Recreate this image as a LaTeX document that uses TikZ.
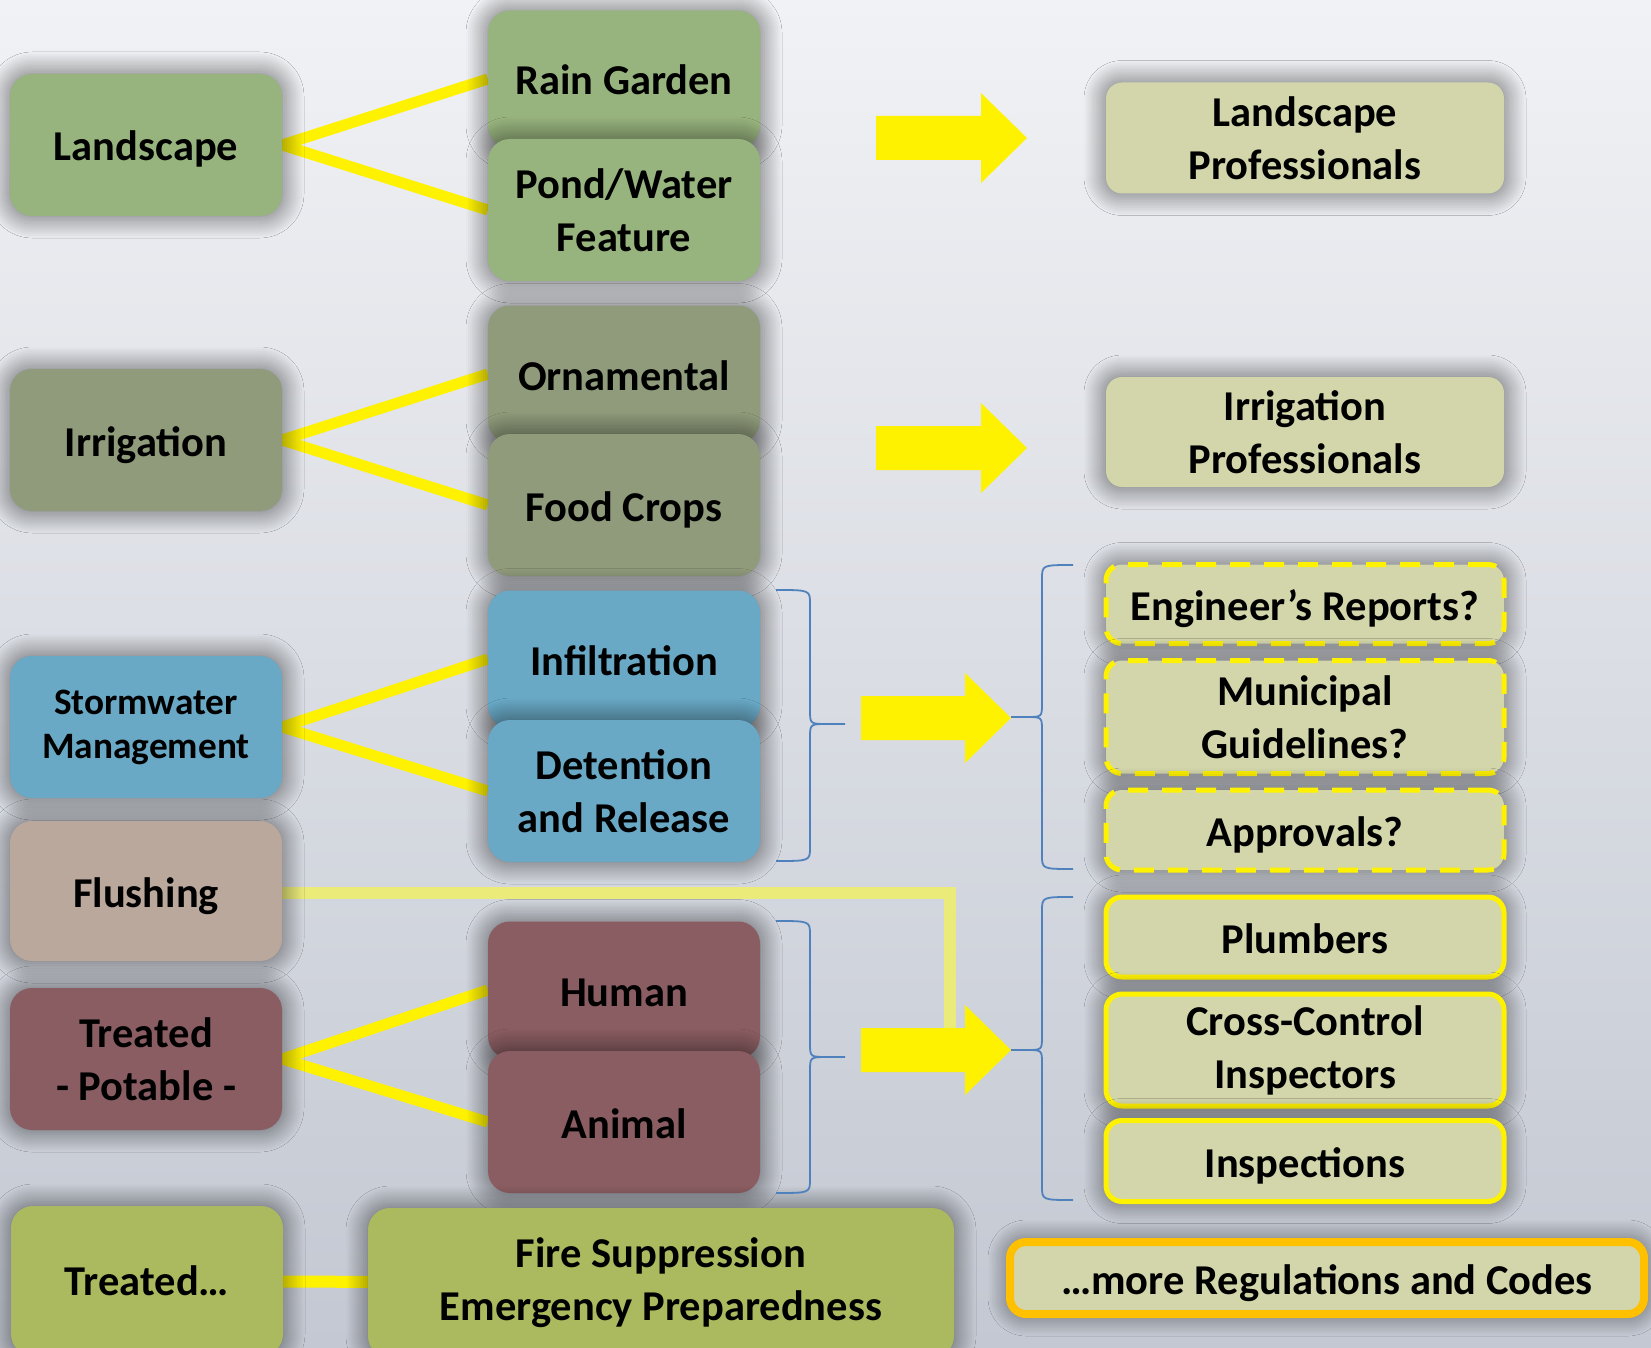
\documentclass[tikz,border=0pt]{standalone}
\usepackage{fontspec}
\setmainfont{Carlito}
\usetikzlibrary{backgrounds,shadows.blur}

\definecolor{skytop}{HTML}{F1F2F5}
\definecolor{skymid}{HTML}{D7DBE5}
\definecolor{skybot}{HTML}{C3C8D2}
\definecolor{leafgreen}{HTML}{98B47E}
\definecolor{sage}{HTML}{8F9B7B}
\definecolor{lakeblue}{HTML}{69A9C6}
\definecolor{clay}{HTML}{BBA89D}
\definecolor{wine}{HTML}{8A5D62}
\definecolor{olivegreen}{HTML}{ABBA5E}
\definecolor{khakipale}{HTML}{D3D6AB}
\definecolor{amber}{HTML}{FFC000}
\definecolor{braceblue}{HTML}{4F81BD}
\definecolor{paleyellow}{HTML}{EBEB7A}

\newcommand{\bigfont}{\fontsize{42.5}{53}\selectfont\bfseries}
\newcommand{\midfont}{\fontsize{37.3}{44}\selectfont\bfseries}

\begin{document}
\begin{tikzpicture}
    [
        x=1pt, y=-1pt,
        tile/.style={rounded corners=22pt, minimum width=272pt, minimum height=142pt,
            inner sep=0pt, align=center, font=\bigfont,
            blur shadow={shadow xshift=0pt, shadow yshift=0pt, shadow blur radius=22pt,
                shadow blur steps=12, shadow opacity=60}},
        oneline/.style={text height=36pt, text depth=4pt},
        pro/.style={tile, rounded corners=16pt, minimum width=398pt, fill=khakipale},
        dashpro/.style={pro, draw=yellow, line width=5pt, dash pattern=on 20pt off 14pt},
        linepro/.style={pro, draw=yellow, line width=5pt},
        link/.style={line width=11pt, yellow},
        curly/.style={draw=braceblue, line width=1.8pt}
    ]
    \useasboundingbox (0,0) rectangle (1651,1348);

    % left column
    \node[tile, oneline, fill=leafgreen] (land) at (146,145) {Landscape};
    \node[tile, oneline, fill=sage] (irri) at (146,440) {Irrigation};
    \node[tile, fill=lakeblue, font=\midfont] (storm) at (146,727) {Stormwater\\Management};
    \node[tile, oneline, fill=clay, minimum height=140pt] (flush) at (146,891) {Flushing};
    \node[tile, fill=wine] (potable) at (146,1059) {Treated\\- Potable -};
    \node[tile, fill=olivegreen, minimum height=150pt] (treated) at (147,1281) {Treated…};

    % middle column
    \node[tile, oneline, fill=leafgreen, minimum height=137pt] (rain) at (624,79) {Rain Garden};
    \node[tile, fill=leafgreen] (pond) at (624,210) {Pond/Water\\Feature};
    \node[tile, oneline, fill=sage, minimum height=137pt] (orna) at (624,374) {Ornamental};
    \node[tile, oneline, fill=sage] (food) at (624,505) {Food Crops};
    \node[tile, oneline, fill=lakeblue, minimum height=137pt] (infil) at (624,659) {Infiltration};
    \node[tile, fill=lakeblue] (deten) at (624,791) {Detention\\and Release};
    \node[tile, oneline, fill=wine, minimum height=137pt] (human) at (624,990) {Human};
    \node[tile, oneline, fill=wine] (animal) at (624,1122) {Animal};
    \node[tile, fill=olivegreen, minimum width=586pt, minimum height=150pt] (fire) at (661,1283) {Fire Suppression\\Emergency Preparedness};

    % right column
    \node[pro, minimum height=111pt] (landpro) at (1305,138) {Landscape\\Professionals};
    \node[pro, minimum height=110pt] (irripro) at (1305,432) {Irrigation\\Professionals};
    \node[dashpro, oneline, minimum height=79pt] (eng) at (1305,604) {Engineer’s Reports?};
    \node[dashpro, minimum height=113pt] (muni) at (1305,717) {Municipal\\Guidelines?};
    \node[dashpro, oneline, minimum height=80pt] (appr) at (1305,830) {Approvals?};
    \node[linepro, oneline, minimum height=80pt] (plumb) at (1305,937) {Plumbers};
    \node[linepro, minimum height=112pt] (cross) at (1305,1050) {Cross-Control\\Inspectors};
    \node[linepro, oneline, minimum height=81pt] (insp) at (1305,1161) {Inspections};
    \node[linepro, oneline, draw=amber, line width=8pt, minimum width=634pt, minimum height=72pt] (more) at (1327,1278) {…more Regulations and Codes};

    \begin{scope}[on background layer]
        \fill[top color=skytop, middle color=skymid, bottom color=skybot] (0,0) rectangle (1651,1348);
        \foreach \a/\b in {land/rain, land/pond, irri/orna, irri/food, storm/infil, storm/deten, potable/human, potable/animal}
            \draw[link] (\a.east) -- (\b.west);
        \draw[link, line width=12pt] (treated) -- (fire);
        \coordinate (drop) at (950,1029);
        \draw[line width=12pt, paleyellow] ([yshift=-2pt]flush.east) -| (drop); % flushing joins the last arrow
    \end{scope}

    \foreach \xa/\xb/\xc/\yc in {876/981/1027/138, 876/981/1027/448, 861/965/1011/718, 861/965/1011/1050}
        \fill[yellow] (\xa,{\yc-22}) -- (\xb,{\yc-22}) -- (\xb,{\yc-45}) -- (\xc,\yc) -- (\xb,{\yc+45})
            -- (\xb,{\yc+22}) -- (\xa,{\yc+22}) -- cycle;

    % braces: ends, spine, tip, top, middle, bottom
    \foreach \xa/\xv/\xt/\yt/\ym/\yb in {776/810/845/590/724/861, 776/810/845/921/1057/1193,
                                        1073/1042/1011/565/717/869, 1073/1042/1011/897/1050/1200}
        \draw[curly] (\xa,\yt) .. controls (\xv,\yt) .. (\xv,{\yt+14}) -- (\xv,{\ym-14})
            .. controls (\xv,\ym) .. ({(\xv+\xt)/2},\ym) -- (\xt,\ym) -- ({(\xv+\xt)/2},\ym)
            .. controls (\xv,\ym) .. (\xv,{\ym+14}) -- (\xv,{\yb-14}) .. controls (\xv,\yb) .. (\xa,\yb);
\end{tikzpicture}
\end{document}
